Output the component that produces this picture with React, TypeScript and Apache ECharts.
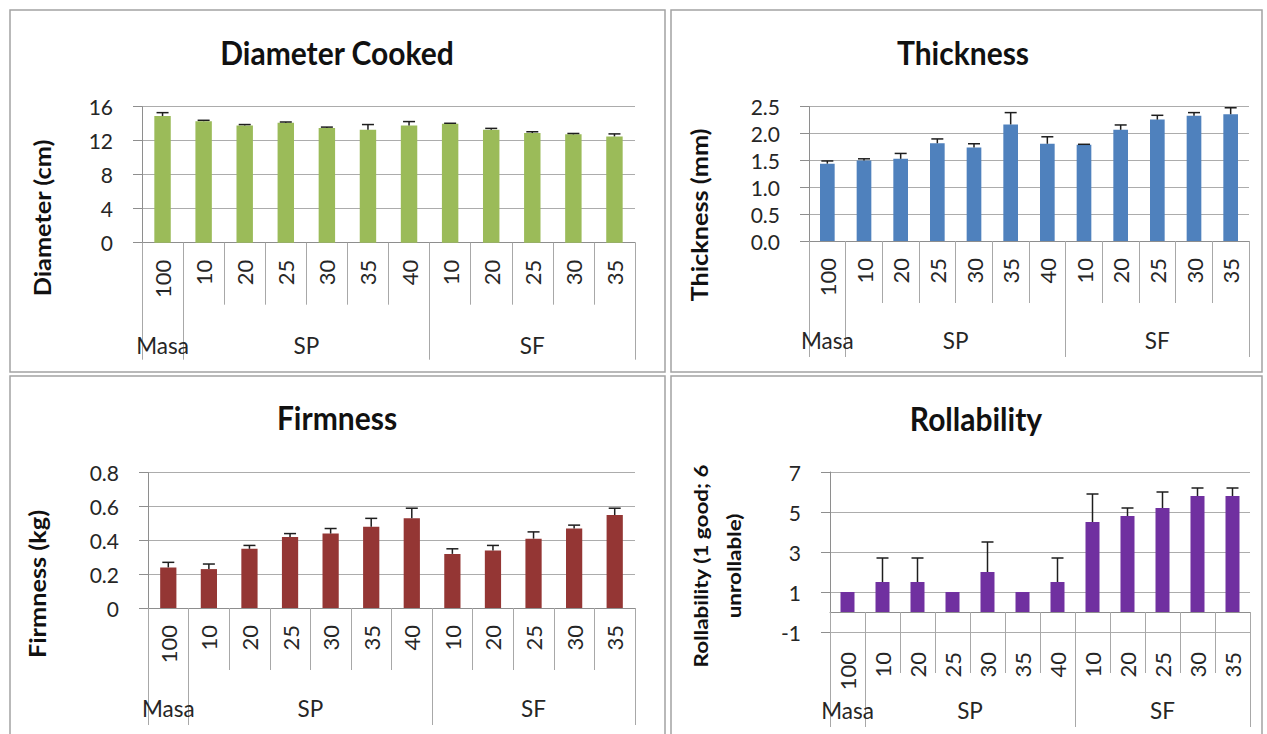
import React, { useEffect, useRef } from 'react';
import * as echarts from 'echarts';

const categories = ['100', '10', '20', '25', '30', '35', '40', '10', '20', '25', '30', '35'];
const groupNames = ['Masa', 'SP', 'SF'];
const groupSizes = [1, 6, 5];

const diameterMeans = [14.9, 14.3, 13.8, 14.1, 13.5, 13.3, 13.8, 14.0, 13.3, 12.9, 12.75, 12.5];
const diameterErr = [0.4, 0.1, 0.1, 0.1, 0.1, 0.6, 0.45, 0.05, 0.15, 0.15, 0.1, 0.3];

const thicknessMeans = [1.44, 1.5, 1.53, 1.82, 1.74, 2.17, 1.81, 1.79, 2.07, 2.26, 2.33, 2.36];
const thicknessErr = [0.05, 0.03, 0.1, 0.08, 0.07, 0.22, 0.13, 0.01, 0.09, 0.08, 0.06, 0.12];

const firmnessMeans = [0.24, 0.23, 0.35, 0.42, 0.44, 0.48, 0.53, 0.32, 0.34, 0.41, 0.47, 0.55];
const firmnessErr = [0.03, 0.03, 0.02, 0.02, 0.03, 0.05, 0.06, 0.03, 0.03, 0.04, 0.02, 0.04];

const rollMeans = [1, 1.5, 1.5, 1, 2, 1, 1.5, 4.5, 4.8, 5.2, 5.8, 5.8];
const rollErr = [0, 1.2, 1.2, 0, 1.5, 0, 1.2, 1.4, 0.4, 0.8, 0.4, 0.4];

const FONT = 'Lato, "Noto Sans", sans-serif';
const TEXT = '#262626';
const AXIS = '#8e8e8e';
const GRID = '#acacac';
const SEP = '#a8a8a8';
const BORDER = '#a3a3a3';

// group boundaries and centers derived from sizes
const boundaries: number[] = [0];
groupSizes.forEach((s) => boundaries.push(boundaries[boundaries.length - 1] + s));
const centers = groupSizes.map((s, i) => boundaries[i] + s / 2);

const panels = [
  {
    title: 'Diameter Cooked', titleX: 337, titleY: 53,
    yNames: ['Diameter (cm)'], yNameX: [43], yNameY: 218, yNameSize: 22,
    grid: { left: 142, top: 106.7, width: 493, height: 136 },
    yMin: 0, yMax: 16, yInt: 4, fixed: 0,
    color: '#9BBB59', means: diameterMeans, errs: diameterErr,
    shortTick: 62, longTick: 117, labelMargin: 17, groupMargin: 91,
  },
  {
    title: 'Thickness', titleX: 963, titleY: 53,
    yNames: ['Thickness (mm)'], yNameX: [700], yNameY: 215, yNameSize: 22,
    grid: { left: 809, top: 106.7, width: 440, height: 134.3 },
    yMin: 0, yMax: 2.5, yInt: 0.5, fixed: 1,
    color: '#4F81BD', means: thicknessMeans, errs: thicknessErr,
    shortTick: 62, longTick: 116, labelMargin: 17, groupMargin: 88,
  },
  {
    title: 'Firmness', titleX: 337, titleY: 418,
    yNames: ['Firmness (kg)'], yNameX: [38], yNameY: 584, yNameSize: 22,
    grid: { left: 148, top: 472.7, width: 487, height: 135.3 },
    yMin: 0, yMax: 0.8, yInt: 0.2, fixed: -1,
    color: '#943634', means: firmnessMeans, errs: firmnessErr,
    shortTick: 62, longTick: 117, labelMargin: 17, groupMargin: 89,
  },
  {
    title: 'Rollability', titleX: 976, titleY: 419,
    yNames: ['Rollability (1 good; 6', 'unrollable)'], yNameX: [700, 733], yNameY: 566, yNameSize: 19.5,
    grid: { left: 830, top: 472, width: 420, height: 160 },
    yMin: -1, yMax: 7, yInt: 2, fixed: -1,
    color: '#7030A0', means: rollMeans, errs: rollErr,
    shortTick: 61, longTick: 95, labelMargin: 20, groupMargin: 67,
  },
];

export default function App() {
  const ref = useRef<HTMLDivElement>(null);

  useEffect(() => {
    if (!ref.current) return;
    const chart = echarts.init(ref.current, undefined, { renderer: 'svg' });

    const grids: any[] = [];
    const xAxes: any[] = [];
    const yAxes: any[] = [];
    const series: any[] = [];
    const graphics: any[] = [];

    // panel borders
    const borders = [
      { x: 10, y: 10, width: 655, height: 362 },
      { x: 671, y: 10, width: 591, height: 362 },
      { x: 10, y: 376, width: 655, height: 372 },
      { x: 671, y: 376, width: 591, height: 372 },
    ];
    borders.forEach((b) => {
      graphics.push({
        type: 'rect', shape: b, silent: true, z: -10,
        style: { fill: '#fff', stroke: BORDER, lineWidth: 1.5 },
      });
    });

    panels.forEach((p, i) => {
      grids.push({ ...p.grid, containLabel: false });

      xAxes.push({
        type: 'category', gridIndex: i, data: categories, position: 'bottom',
        axisLine: { show: true, onZero: true, lineStyle: { color: AXIS, width: 1 } },
        axisTick: { show: true, alignWithLabel: false, interval: 0, length: p.shortTick, lineStyle: { color: SEP } },
        axisLabel: { rotate: 90, interval: 0, margin: p.labelMargin, fontSize: 22, color: TEXT, fontFamily: FONT },
        splitLine: { show: false },
      });
      xAxes.push({
        type: 'value', gridIndex: i, min: 0, max: categories.length, position: 'bottom', offset: 0,
        axisLine: { show: false, onZero: false },
        splitLine: { show: false },
        axisTick: { show: true, length: p.longTick, lineStyle: { color: SEP }, customValues: boundaries },
        axisLabel: {
          show: true, customValues: centers, margin: p.groupMargin, fontSize: 22.5, color: TEXT, fontFamily: FONT,
          formatter: (v: number) => {
            const k = centers.findIndex((c) => Math.abs(c - v) < 1e-6);
            return k >= 0 ? groupNames[k] : '';
          },
        },
      });

      yAxes.push({
        type: 'value', gridIndex: i, min: p.yMin, max: p.yMax, interval: p.yInt,
        axisLine: { show: true, lineStyle: { color: AXIS } },
        axisTick: { show: true, length: 9, lineStyle: { color: AXIS } },
        splitLine: { show: true, lineStyle: { color: GRID } },
        axisLabel: {
          fontSize: 21, margin: 29, color: TEXT, fontFamily: FONT,
          formatter: (v: number) => (p.fixed >= 0 ? v.toFixed(p.fixed) : String(Math.round(v * 100) / 100)),
        },
      });

      series.push({
        type: 'bar', xAxisIndex: i * 2, yAxisIndex: i, data: p.means, barWidth: '40%',
        itemStyle: { color: p.color }, silent: true,
      });
      series.push({
        type: 'custom', xAxisIndex: i * 2, yAxisIndex: i, silent: true, z: 5,
        encode: { x: 0, y: 1 },
        data: p.means.map((m, k) => [k, m, p.errs[k]]),
        renderItem: (params: any, api: any) => {
          const idx = api.value(0);
          const m = api.value(1);
          const e = api.value(2);
          if (!e) return { type: 'group', children: [] };
          const p0 = api.coord([idx, m]);
          const p1 = api.coord([idx, m + e]);
          const half = 6;
          const st = { stroke: '#1e1e1e', lineWidth: 1.5 };
          return {
            type: 'group',
            children: [
              { type: 'line', shape: { x1: p0[0], y1: p0[1], x2: p1[0], y2: p1[1] }, style: st },
              { type: 'line', shape: { x1: p1[0] - half, y1: p1[1], x2: p1[0] + half, y2: p1[1] }, style: st },
            ],
          };
        },
      });

      graphics.push({
        type: 'text', x: p.titleX, y: p.titleY, scaleY: 1.05, silent: true,
        style: {
          text: p.title, fill: '#111', font: `bold 30px ${FONT}`,
          textAlign: 'center', textVerticalAlign: 'middle',
        },
      });
      p.yNames.forEach((nm, k) => {
        graphics.push({
          type: 'text', x: p.yNameX[k], y: p.yNameY, rotation: Math.PI / 2, scaleX: 1.15, silent: true,
          style: {
            text: nm, fill: '#111', font: `bold ${p.yNameSize}px ${FONT}`,
            textAlign: 'center', textVerticalAlign: 'middle',
          },
        });
      });
    });

    chart.setOption({
      animation: false,
      backgroundColor: '#fff',
      grid: grids,
      xAxis: xAxes,
      yAxis: yAxes,
      series,
      graphic: graphics,
    });

    return () => chart.dispose();
  }, []);

  return (
    <div
      ref={ref}
      style={{ position: 'absolute', left: 0, top: 0, width: 1267, height: 734 }}
    />
  );
}
